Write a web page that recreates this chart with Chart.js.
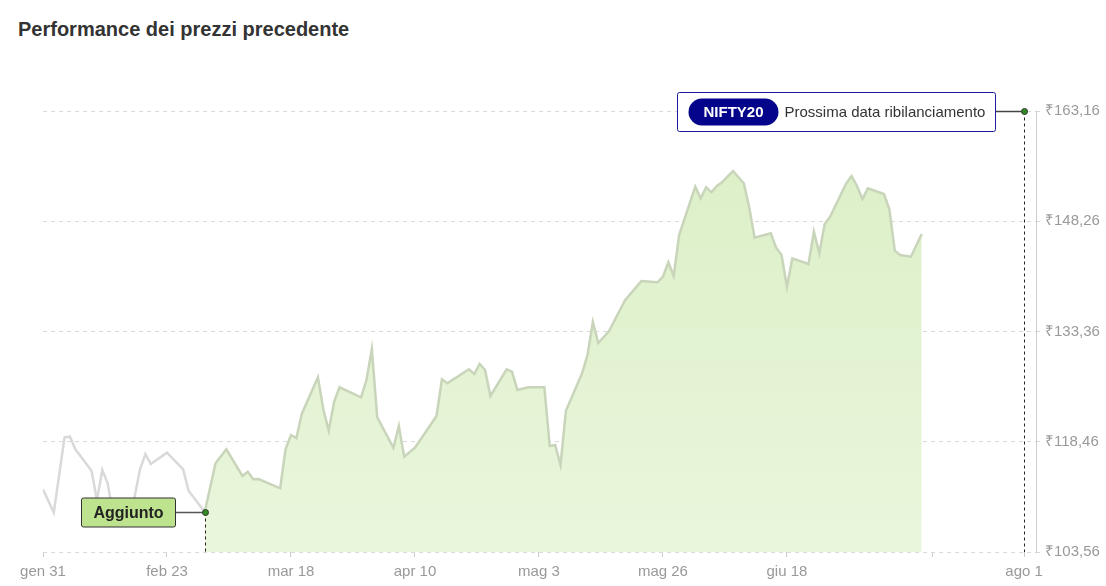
<!DOCTYPE html>
<html>
<head>
<meta charset="utf-8">
<script src="https://cdn.jsdelivr.net/npm/chart.js@4/dist/chart.umd.min.js"></script>
<style>
html,body{margin:0;padding:0;background:#fff;}
#wrap{position:relative;width:1106px;height:586px;overflow:hidden;}
#title{position:absolute;left:18px;top:19px;margin:0;font:bold 20px/20px "Liberation Sans",Arial,sans-serif;color:#333;}
canvas{position:absolute;left:0;top:0;}
</style>
</head>
<body>
<div id="wrap">
<h2 id="title">Performance dei prezzi precedente</h2>
<canvas id="c" width="1106" height="586"></canvas>
</div>
<script>
// Days since 31 gen (x position on the calendar axis)
const days = [0,2,4,5,6,9,10,11,12,13,16,18,19,20,23,26,27,30,
  32,34,37,38,39,40,44,45,46,47,48,51,52,53,54,55,59,60,61,62,65,66,67,69,
  73,74,75,79,80,81,82,83,86,87,88,90,93,94,95,96,97,100,101,102,103,105,108,
  110,111,114,115,116,117,118,121,122,123,124,125,126,127,128,130,131,132,
  135,136,137,138,139,142,143,144,145,146,149,150,151,152,153,156,157,158,159,161,163];
// Price (₹)
const prices = [112.03,108.87,119.06,119.14,117.44,114.55,110.59,114.64,112.84,108.6,107.4,114.73,116.80,115.45,116.98,114.73,111.84,108.96,
  115.55,117.44,113.83,114.41,113.38,113.42,112.17,117.48,119.37,118.96,122.21,127.17,122.84,119.95,123.87,125.82,124.47,126.80,130.99,121.76,117.65,120.59,116.44,117.65,
  121.94,126.90,126.36,128.25,127.61,128.97,128.16,124.64,128.25,127.93,125.45,125.82,125.82,117.88,118.02,115.32,122.65,127.71,130.18,134.64,131.80,133.43,137.62,
  139.33,140.18,140.01,140.77,142.71,140.86,146.40,152.93,151.36,152.85,152.17,153.02,153.56,154.31,155.05,153.39,150.14,146.04,
  146.63,144.68,143.70,139.41,143.25,142.48,146.85,143.93,147.89,148.87,153.39,154.38,153.02,151.27,152.71,151.94,149.87,144.28,143.70,143.47,146.54];

const addedDay = 30;          // "Aggiunto"
const rebalanceDay = 182;     // ago 1 – next rebalancing
const addedLabel = 'Aggiunto';
const indexName = 'NIFTY20';
const rebalanceLabel = 'Prossima data ribilanciamento';

const xTickValues = [0,23,46,69,92,115,138,165,182];
const xTickLabels = ['gen 31','feb 23','mar 18','apr 10','mag 3','mag 26','giu 18','','ago 1'];
const yTickValues = [103.56,118.46,133.36,148.26,163.16];
const yTickLabels = ['₹103,56','₹118,46','₹133,36','₹148,26','₹163,16'];

const FONT = '"Liberation Sans", Arial, sans-serif';

const allPts = days.map((d,i)=>({x:d,y:prices[i]}));
const beforePts = allPts.filter(p=>p.x<=addedDay);
const afterPts = allPts.filter(p=>p.x>=addedDay);
const addedPrice = prices[days.indexOf(addedDay)];

function roundRect(ctx,x,y,w,h,r){
  ctx.beginPath();
  ctx.moveTo(x+r,y);ctx.lineTo(x+w-r,y);ctx.arcTo(x+w,y,x+w,y+r,r);
  ctx.lineTo(x+w,y+h-r);ctx.arcTo(x+w,y+h,x+w-r,y+h,r);
  ctx.lineTo(x+r,y+h);ctx.arcTo(x,y+h,x,y+h-r,r);
  ctx.lineTo(x,y+r);ctx.arcTo(x,y,x+r,y,r);ctx.closePath();
}

const markers = {
  id:'markers',
  afterDraw(chart){
    const {ctx, scales:{x,y}, chartArea} = chart;
    ctx.save();
    // ---- Aggiunto marker
    const ax = Math.round(x.getPixelForValue(addedDay))+0.5;
    const ay = Math.round(y.getPixelForValue(addedPrice))+0.5;
    ctx.setLineDash([3,3]); ctx.strokeStyle='#222'; ctx.lineWidth=1;
    ctx.beginPath(); ctx.moveTo(ax,ay); ctx.lineTo(ax,chartArea.bottom); ctx.stroke();
    ctx.setLineDash([]);
    const bw=94,bh=29, br=ax-30, bl=br-bw, bt=ay-bh/2;
    ctx.strokeStyle='#555'; ctx.lineWidth=1.5;
    ctx.beginPath(); ctx.moveTo(br,ay); ctx.lineTo(ax,ay); ctx.stroke();
    roundRect(ctx,bl,bt,bw,bh,2);
    ctx.fillStyle='#bde38e'; ctx.fill();
    ctx.strokeStyle='#333'; ctx.lineWidth=1; ctx.stroke();
    ctx.fillStyle='#222'; ctx.font='bold 16px '+FONT; ctx.textAlign='center'; ctx.textBaseline='middle';
    ctx.fillText(addedLabel, bl+bw/2, ay+1);
    ctx.beginPath(); ctx.arc(ax,ay,3,0,Math.PI*2); ctx.fillStyle='#2f8a1f'; ctx.fill();
    ctx.strokeStyle='#333'; ctx.lineWidth=1; ctx.stroke();

    // ---- Rebalance marker
    const rx = Math.round(x.getPixelForValue(rebalanceDay))+0.5;
    const ry = Math.round(y.getPixelForValue(y.max))+0.5;
    ctx.setLineDash([3,3]); ctx.strokeStyle='#222'; ctx.lineWidth=1;
    ctx.beginPath(); ctx.moveTo(rx,ry); ctx.lineTo(rx,chartArea.bottom); ctx.stroke();
    ctx.setLineDash([]);
    const tw=318, th=39, tr=rx-29, tl=tr-tw, tt=ry-th/2+0.5;
    ctx.strokeStyle='#444'; ctx.lineWidth=1.5;
    ctx.beginPath(); ctx.moveTo(tr,ry); ctx.lineTo(rx,ry); ctx.stroke();
    roundRect(ctx,tl,tt,tw,th,2);
    ctx.fillStyle='#fff'; ctx.fill();
    ctx.strokeStyle='#1c1c9c'; ctx.lineWidth=1; ctx.stroke();
    const pl=tl+11, pw=90, ph=27, pt=tt+6;
    roundRect(ctx,pl,pt,pw,ph,ph/2);
    ctx.fillStyle='#05058c'; ctx.fill();
    ctx.fillStyle='#fff'; ctx.font='bold 15px '+FONT; ctx.textAlign='center'; ctx.textBaseline='middle';
    ctx.fillText(indexName, pl+pw/2, pt+ph/2+1);
    ctx.fillStyle='#333'; ctx.font='15px '+FONT; ctx.textAlign='left';
    ctx.fillText(rebalanceLabel, pl+pw+6, pt+ph/2+1);
    ctx.beginPath(); ctx.arc(rx,ry,3,0,Math.PI*2); ctx.fillStyle='#2f8a1f'; ctx.fill();
    ctx.strokeStyle='#333'; ctx.lineWidth=1; ctx.stroke();
    ctx.restore();
  }
};

new Chart(document.getElementById('c'), {
  type:'line',
  data:{
    datasets:[
      {data:beforePts, borderColor:'#d9d9d9', borderWidth:2.5, pointRadius:0, fill:false, tension:0},
      {data:afterPts, borderColor:'#c9d5ba', borderWidth:2.5, pointRadius:0, tension:0, fill:'start',
       backgroundColor:(c)=>{
         const ca=c.chart.chartArea; if(!ca) return '#e2f2d2';
         const g=c.chart.ctx.createLinearGradient(0,ca.top,0,ca.bottom);
         g.addColorStop(0,'#dbefc5'); g.addColorStop(1,'#e9f6dc'); return g;
       }}
    ]
  },
  options:{
    responsive:false, animation:false,
    layout:{padding:{left:43,top:111,right:0,bottom:0}},
    plugins:{legend:{display:false}, tooltip:{enabled:false}, title:{display:false}},
    scales:{
      x:{type:'linear', min:0, max:184.2,
        afterBuildTicks:(s)=>{s.ticks=xTickValues.map(v=>({value:v}));},
        afterFit:(s)=>{s.height=34;},
        grid:{display:true, drawOnChartArea:false, drawTicks:true, tickLength:5, color:'#cccccc'},
        border:{display:false},
        ticks:{autoSkip:false, maxRotation:0, padding:6, color:'#999', font:{family:FONT,size:15},
          callback:(v,i)=>xTickLabels[i]}
      },
      y:{position:'right', min:103.56, max:163.16,
        afterBuildTicks:(s)=>{s.ticks=yTickValues.map(v=>({value:v}));},
        afterFit:(s)=>{s.width=70;},
        grid:{color:'#d9d9d9', tickLength:4, drawTicks:true},
        border:{display:true, color:'#cccccc', dash:[4,4]},
        ticks:{padding:5, color:'#999', font:{family:FONT,size:15},
          callback:(v,i)=>yTickLabels[i]}
      }
    }
  },
  plugins:[markers]
});
</script>
</body>
</html>
